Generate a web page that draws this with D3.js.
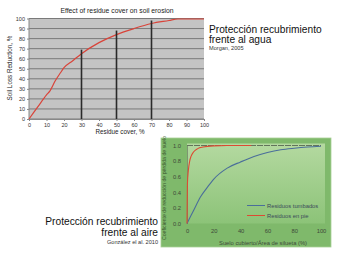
<!DOCTYPE html>
<html>
<head>
<meta charset="utf-8">
<script src="https://cdn.jsdelivr.net/npm/d3@7"></script>
<style>
  body { margin: 0; background: #fff; }
  svg { display: block; font-family: "Liberation Sans", Arial, sans-serif; }
</style>
</head>
<body>
<svg id="chart" width="339" height="255"></svg>
<script>
(function() {
  'use strict';

  // top chart: Morgan 2005
  var coverPct = [0, 5, 10, 12, 15, 18, 20, 25, 30, 40, 50, 60, 70, 80, 85, 90, 100];
  var lossReduction = [0, 12, 24, 28, 38, 46, 51, 58, 65, 76, 84, 90, 95, 98, 99.5, 99.5, 99.5];
  var barCover = [30, 50, 70];
  var barHeight = [69, 88, 98];
  var topXTicks = [0, 10, 20, 30, 40, 50, 60, 70, 80, 90, 100];
  var topYTicks = [0, 10, 20, 30, 40, 50, 60, 70, 80, 90, 100];

  // bottom chart: Gonzalez 2010
  var flatX = [0, 5, 10, 15, 20, 30, 40, 50, 60, 70, 80, 90, 100];
  var flatY = [0, 0.17, 0.34, 0.46, 0.57, 0.71, 0.79, 0.86, 0.91, 0.945, 0.965, 0.98, 0.99];
  var standX = [0, 0.3, 1, 2, 3, 5, 8, 12, 20, 30, 48];
  var standY = [0, 0.5, 0.68, 0.8, 0.86, 0.92, 0.96, 0.98, 0.995, 1, 1];
  var botXTicks = [0, 20, 40, 60, 80, 100];
  var botYTicks = [0, 0.2, 0.4, 0.6, 0.8, 1.0];

  var svg = d3.select('#chart');

  topChart();
  bottomChart();
  captions();

  function topChart() {
    var x, y, line, g, pts;
    x = d3.scaleLinear().domain([0, 100]).range([29, 204]);
    y = d3.scaleLinear().domain([0, 100]).range([119, 18.5]);
    g = svg.append('g');

    g.append('rect')
      .attr('x', x(0)).attr('y', y(100))
      .attr('width', x(100) - x(0)).attr('height', y(0) - y(100))
      .attr('fill', '#c4c4c4');

    g.append('g')
      .selectAll('line')
      .data(topYTicks)
      .enter().append('line')
        .attr('x1', x(0)).attr('x2', x(100))
        .attr('y1', function(d) { return y(d); })
        .attr('y2', function(d) { return y(d); })
        .attr('stroke', '#7a7a7a')
        .attr('stroke-width', 1);

    g.append('line')
      .attr('x1', x(0)).attr('x2', x(0))
      .attr('y1', y(0)).attr('y2', y(100))
      .attr('stroke', '#888');

    g.append('g')
      .attr('transform', 'translate(0,' + y(0) + ')')
      .call(d3.axisBottom(x).tickValues(topXTicks).tickSize(2).tickPadding(2))
      .call(function(a) {
        a.select('.domain').attr('stroke', '#888');
        a.selectAll('line').attr('stroke', '#888');
        a.selectAll('text').attr('font-size', 5.5).attr('fill', '#333').attr('font-family', null);
      });

    g.append('g')
      .attr('transform', 'translate(' + x(0) + ',0)')
      .call(d3.axisLeft(y).tickValues(topYTicks).tickSize(2).tickPadding(2))
      .call(function(a) {
        a.select('.domain').remove();
        a.selectAll('line').attr('stroke', '#888');
        a.selectAll('text').attr('font-size', 5.5).attr('fill', '#333').attr('font-family', null);
      });

    line = d3.line()
      .x(function(d) { return x(d[0]); })
      .y(function(d) { return y(d[1]); })
      .curve(d3.curveMonotoneX);
    pts = coverPct.map(function(c, i) { return [c, lossReduction[i]]; });

    g.append('path')
      .datum(pts)
      .attr('d', line)
      .attr('fill', 'none')
      .attr('stroke', '#d9443a')
      .attr('stroke-width', 1.2);

    g.append('g')
      .selectAll('line')
      .data(barCover)
      .enter().append('line')
        .attr('x1', function(d) { return x(d); })
        .attr('x2', function(d) { return x(d); })
        .attr('y1', y(0))
        .attr('y2', function(d, i) { return y(barHeight[i]); })
        .attr('stroke', '#2a2a2a')
        .attr('stroke-width', 1.6);

    g.append('text')
      .attr('x', 117).attr('y', 13)
      .attr('text-anchor', 'middle')
      .attr('font-size', 6.8).attr('fill', '#222')
      .text('Effect of residue cover on soil erosion');

    g.append('text')
      .attr('x', 120).attr('y', 134)
      .attr('text-anchor', 'middle')
      .attr('font-size', 6.3).attr('fill', '#222')
      .text('Residue cover,  %');

    g.append('text')
      .attr('transform', 'translate(12,' + 68 + ') rotate(-90)')
      .attr('text-anchor', 'middle')
      .attr('font-size', 6.3).attr('fill', '#222')
      .text('Soil Loss Reduction,  %');
  }

  function bottomChart() {
    var x, y, line, g, grad, legend;
    x = d3.scaleLinear().domain([0, 100]).range([187, 321]);
    y = d3.scaleLinear().domain([0, 1]).range([223.5, 145.5]);
    g = svg.append('g');

    grad = svg.append('defs').append('linearGradient')
      .attr('id', 'plotbg').attr('x1', 0).attr('y1', 0).attr('x2', 0).attr('y2', 1);
    grad.append('stop').attr('offset', 0).attr('stop-color', '#b4d9a0');
    grad.append('stop').attr('offset', 1).attr('stop-color', '#8cc378');

    g.append('rect')
      .attr('x', 161).attr('y', 138)
      .attr('width', 170).attr('height', 109)
      .attr('fill', '#7fb96b')
      .attr('stroke', '#a8cf96').attr('stroke-width', 0.8);

    g.append('rect')
      .attr('x', x(0)).attr('y', y(1) - 2)
      .attr('width', x(100) - x(0) + 4).attr('height', y(0) - y(1) + 2)
      .attr('fill', 'url(#plotbg)');

    g.append('g')
      .attr('transform', 'translate(0,' + y(0) + ')')
      .call(d3.axisBottom(x).tickValues(botXTicks).tickSize(0).tickPadding(5))
      .call(function(a) {
        a.select('.domain').remove();
        a.selectAll('text').attr('font-size', 5.8).attr('fill', '#3e4a3a').attr('font-family', null);
      });

    g.append('g')
      .attr('transform', 'translate(' + x(0) + ',0)')
      .call(d3.axisLeft(y).tickValues(botYTicks).tickSize(0).tickPadding(6)
        .tickFormat(d3.format('.1f')))
      .call(function(a) {
        a.select('.domain').attr('stroke', '#5b6b55').attr('stroke-width', 0.6);
        a.selectAll('text').attr('font-size', 5.8).attr('fill', '#3e4a3a').attr('font-family', null);
      });

    // reference line at 1.0
    g.append('line')
      .attr('x1', x(0)).attr('x2', x(100))
      .attr('y1', y(1)).attr('y2', y(1))
      .attr('stroke', '#4d5a4a').attr('stroke-width', 0.8)
      .attr('stroke-dasharray', '6,1');

    line = d3.line()
      .x(function(d) { return x(d[0]); })
      .y(function(d) { return y(d[1]); })
      .curve(d3.curveMonotoneX);

    g.append('path')
      .datum(flatX.map(function(v, i) { return [v, flatY[i]]; }))
      .attr('d', line)
      .attr('fill', 'none')
      .attr('stroke', '#4a6e9a')
      .attr('stroke-width', 1.1);

    g.append('path')
      .datum(standX.map(function(v, i) { return [v, standY[i]]; }))
      .attr('d', line)
      .attr('fill', 'none')
      .attr('stroke', '#dc4b32')
      .attr('stroke-width', 1.1);

    legend = g.append('g').attr('font-size', 5.8).attr('fill', '#3b4a5a');
    [['Residuos tumbados', '#4a6e9a', 205.5], ['Residuos en pie', '#dc4b32', 215.5]]
      .forEach(function(l) {
        legend.append('line')
          .attr('x1', 247).attr('x2', 265)
          .attr('y1', l[2]).attr('y2', l[2])
          .attr('stroke', l[1]).attr('stroke-width', 1);
        legend.append('text')
          .attr('x', 267).attr('y', l[2] + 2)
          .text(l[0]);
      });

    g.append('text')
      .attr('x', 263).attr('y', 244.5)
      .attr('text-anchor', 'middle')
      .attr('font-size', 5.8).attr('fill', '#3e4a3a')
      .text('Suelo cubierto/Área de silueta (%)');

    g.append('text')
      .attr('transform', 'translate(166,' + 188 + ') rotate(-90)')
      .attr('text-anchor', 'middle')
      .attr('font-size', 5.2).attr('fill', '#3d5a30')
      .text('Coeficiente de reducción de pérdida de suelo');
  }

  function captions() {
    var t = svg.append('g').attr('fill', '#111');
    t.append('text').attr('x', 209).attr('y', 32.5).attr('font-size', 10.2).text('Protección recubrimiento');
    t.append('text').attr('x', 209).attr('y', 42.5).attr('font-size', 10.2).text('frente al agua');
    t.append('text').attr('x', 209).attr('y', 49.5).attr('font-size', 5.6).attr('fill', '#333').text('Morgan, 2005');

    t.append('text').attr('x', 158).attr('y', 225).attr('text-anchor', 'end').attr('font-size', 10.2).text('Protección recubrimiento');
    t.append('text').attr('x', 158).attr('y', 235.5).attr('text-anchor', 'end').attr('font-size', 10.2).text('frente al aire');
    t.append('text').attr('x', 158).attr('y', 244).attr('text-anchor', 'end').attr('font-size', 5.6).attr('fill', '#333').text('González el al. 2010');
  }
}());
</script>
</body>
</html>
